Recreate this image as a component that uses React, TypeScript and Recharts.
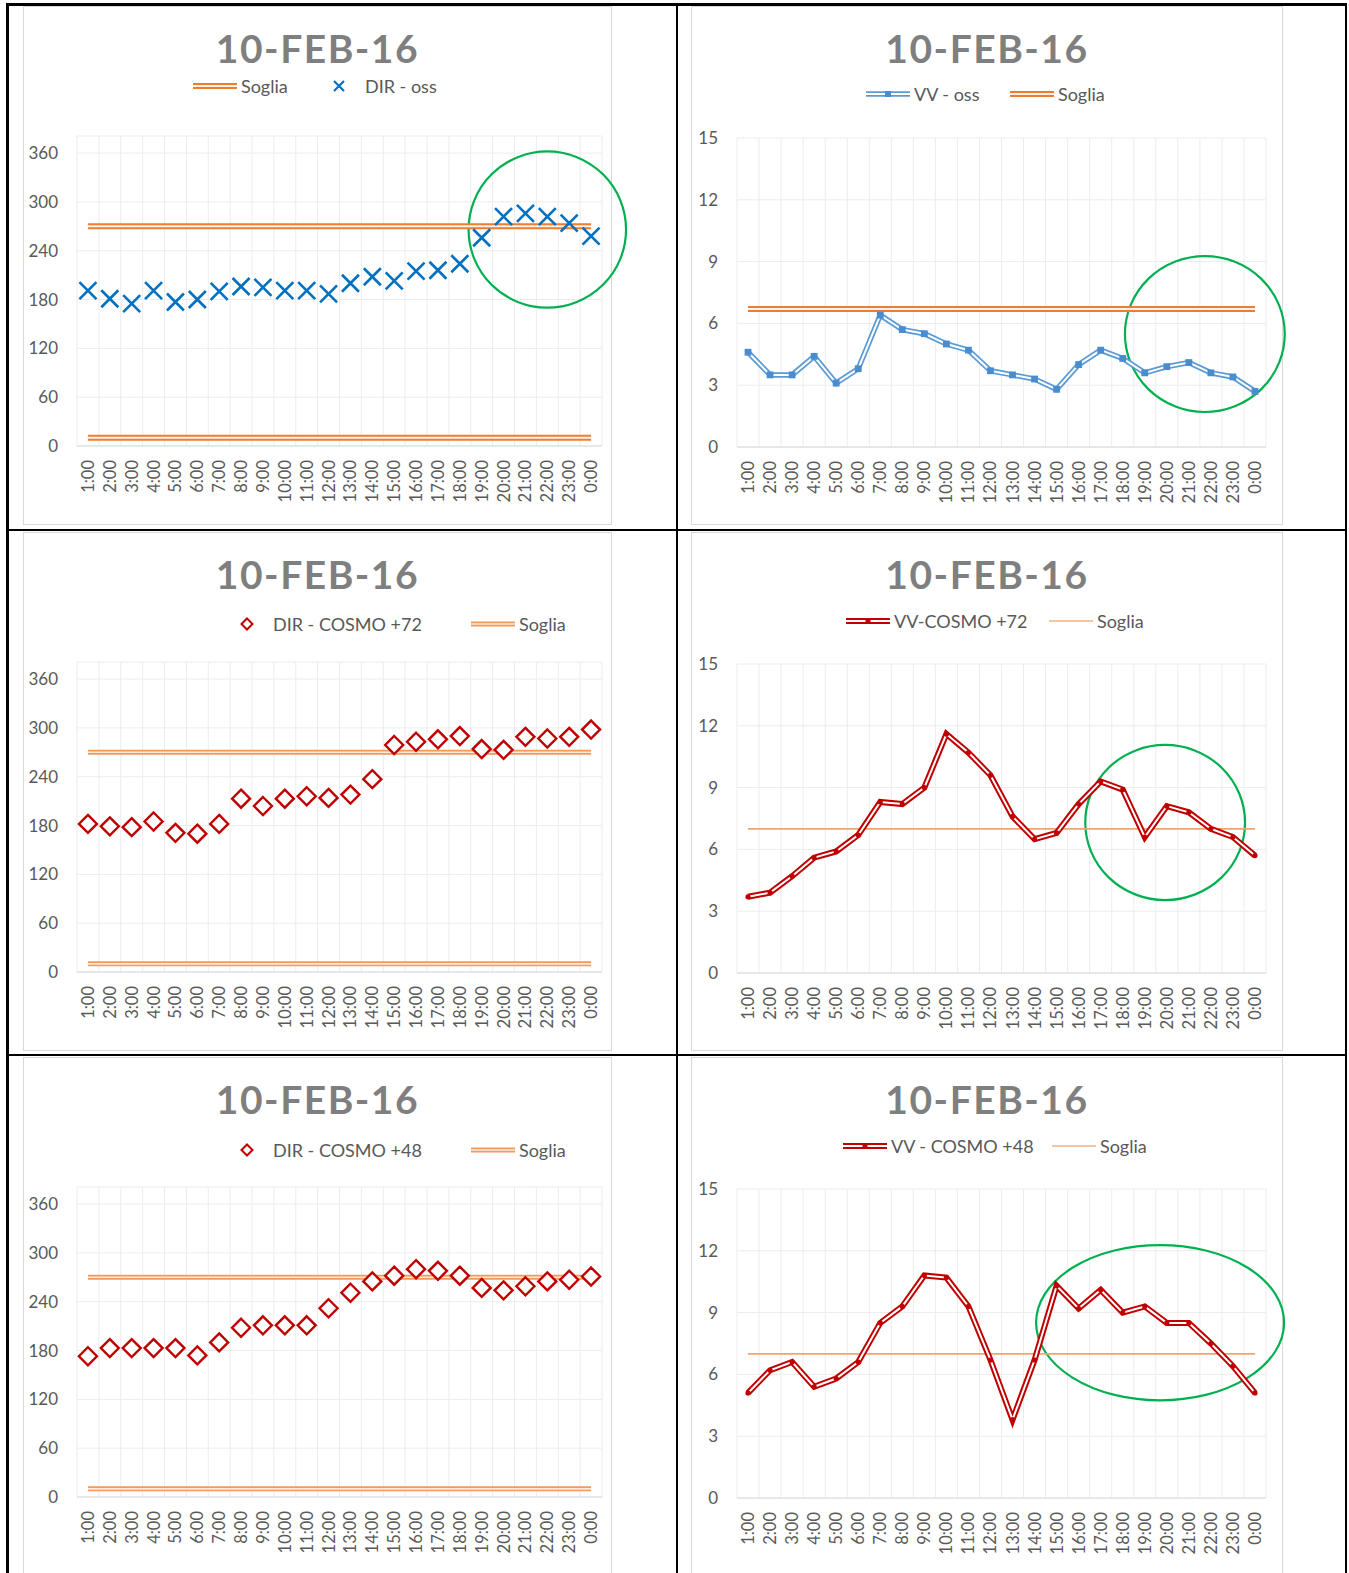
import React from 'react';
import { LineChart, Line, XAxis, YAxis, CartesianGrid, ReferenceArea } from 'recharts';

const FONT = 'Lato, "Open Sans", sans-serif';

const HOURS = [
  '1:00', '2:00', '3:00', '4:00', '5:00', '6:00', '7:00', '8:00', '9:00', '10:00', '11:00', '12:00',
  '13:00', '14:00', '15:00', '16:00', '17:00', '18:00', '19:00', '20:00', '21:00', '22:00', '23:00', '0:00',
];

const DIR_OSS = [191, 181, 175, 191, 177, 180, 190, 196, 195, 191, 191, 187, 200, 208, 203, 215, 216, 224, 256, 282, 286, 282, 274, 258];
const VV_OSS = [4.6, 3.5, 3.5, 4.4, 3.1, 3.8, 6.4, 5.7, 5.5, 5.0, 4.7, 3.7, 3.5, 3.3, 2.8, 4.0, 4.7, 4.3, 3.6, 3.9, 4.1, 3.6, 3.4, 2.7];
const DIR_COSMO_72 = [182, 179, 178, 185, 171, 170, 182, 213, 204, 213, 216, 214, 218, 237, 279, 283, 286, 290, 274, 273, 289, 287, 289, 298];
const VV_COSMO_72 = [3.7, 3.9, 4.7, 5.6, 5.9, 6.7, 8.3, 8.2, 9.0, 11.6, 10.7, 9.6, 7.6, 6.5, 6.8, 8.2, 9.3, 8.9, 6.6, 8.1, 7.8, 7.0, 6.6, 5.7];
const DIR_COSMO_48 = [173, 183, 183, 183, 183, 174, 190, 208, 211, 211, 211, 232, 251, 265, 272, 280, 278, 272, 257, 254, 259, 265, 267, 271];
const VV_COSMO_48 = [5.1, 6.2, 6.6, 5.4, 5.8, 6.6, 8.5, 9.3, 10.8, 10.7, 9.3, 6.7, 3.8, 6.7, 10.3, 9.2, 10.1, 9.0, 9.3, 8.5, 8.5, 7.5, 6.4, 5.1];

// soglie (threshold) values
const SOGLIA_DIR = [270, 10];
const SOGLIA_VV_OSS = [6.7];
const SOGLIA_VV_COSMO = [7];

const DIR_TICKS = [0, 60, 120, 180, 240, 300, 360];
const VV_TICKS = [0, 3, 6, 9, 12, 15];
const TITLE = '10-FEB-16';

const TICK_IDX = HOURS.map((_, i) => i + 1);
const GRID_IDX = [0, ...TICK_IDX].map(i => i + 0.5);

type Marker = 'x' | 'diamond' | 'blue' | 'red';
type SogliaStyle = 'double' | 'light' | 'thin';
type Icon = Marker | SogliaStyle;

interface PanelCfg {
  left: number;
  top: number;
  width: number;
  kind: 'dir' | 'vv';
  values: number[];
  soglia: number[];
  sogliaStyle: SogliaStyle;
  marker: Marker;
  legendY: number;
  legend: { icon: Icon; label: string; left: number }[];
  highlight?: { x1: number; x2: number; y1: number; y2: number };
}

const PANELS: PanelCfg[] = [
  {
    left: 23, top: 6, width: 589, kind: 'dir', values: DIR_OSS, soglia: SOGLIA_DIR, sogliaStyle: 'double', marker: 'x',
    legendY: 80,
    legend: [{ icon: 'double', label: 'Soglia', left: 170 }, { icon: 'x', label: 'DIR - oss', left: 294 }],
    highlight: { x1: 18.4, x2: 25.6, y1: 170, y2: 362 },
  },
  {
    left: 691, top: 6, width: 592, kind: 'vv', values: VV_OSS, soglia: SOGLIA_VV_OSS, sogliaStyle: 'double', marker: 'blue',
    legendY: 88,
    legend: [{ icon: 'blue', label: 'VV - oss', left: 175 }, { icon: 'double', label: 'Soglia', left: 319 }],
    highlight: { x1: 18.1, x2: 25.35, y1: 1.7, y2: 9.27 },
  },
  {
    left: 23, top: 532, width: 589, kind: 'dir', values: DIR_COSMO_72, soglia: SOGLIA_DIR, sogliaStyle: 'light', marker: 'diamond',
    legendY: 92,
    legend: [{ icon: 'diamond', label: 'DIR - COSMO +72', left: 202 }, { icon: 'light', label: 'Soglia', left: 448 }],
  },
  {
    left: 691, top: 532, width: 592, kind: 'vv', values: VV_COSMO_72, soglia: SOGLIA_VV_COSMO, sogliaStyle: 'thin', marker: 'red',
    legendY: 89,
    legend: [{ icon: 'red', label: 'VV-COSMO +72', left: 155 }, { icon: 'thin', label: 'Soglia', left: 358 }],
    highlight: { x1: 16.3, x2: 23.55, y1: 3.54, y2: 11.07 },
  },
  {
    left: 23, top: 1057, width: 589, kind: 'dir', values: DIR_COSMO_48, soglia: SOGLIA_DIR, sogliaStyle: 'light', marker: 'diamond',
    legendY: 92.5,
    legend: [{ icon: 'diamond', label: 'DIR - COSMO +48', left: 202 }, { icon: 'light', label: 'Soglia', left: 448 }],
  },
  {
    left: 691, top: 1057, width: 592, kind: 'vv', values: VV_COSMO_48, soglia: SOGLIA_VV_COSMO, sogliaStyle: 'thin', marker: 'red',
    legendY: 88.5,
    legend: [{ icon: 'red', label: 'VV - COSMO +48', left: 152 }, { icon: 'thin', label: 'Soglia', left: 361 }],
    highlight: { x1: 14.07, x2: 25.32, y1: 4.74, y2: 12.28 },
  },
];

const SOGLIA_COLORS: Record<SogliaStyle, { outer: string; inner?: string; w: number; wi: number }> = {
  double: { outer: '#ed7d31', inner: '#fdf1ea', w: 6, wi: 2 },
  light: { outer: '#f29a5c', inner: '#fde8da', w: 5, wi: 1.6 },
  thin: { outer: '#f3a46d', w: 1.8, wi: 0 },
};

const HourTick = (props: any) => {
  const { x, y, payload } = props;
  return (
    <text
      transform={`translate(${x},${y}) rotate(-90)`}
      textAnchor="end"
      dominantBaseline="central"
      fontSize={16.5}
      fill="#595959"
      fontFamily={FONT}
    >
      {HOURS[payload.value - 1]}
    </text>
  );
};

const xDot = (p: any) => {
  const { cx, cy, index } = p;
  const h = 8.5;
  return (
    <path
      key={index}
      d={`M${cx - h},${cy - h}L${cx + h},${cy + h}M${cx - h},${cy + h}L${cx + h},${cy - h}`}
      stroke="#0070c0"
      strokeWidth={2.6}
      fill="none"
    />
  );
};

const diamondDot = (p: any) => {
  const { cx, cy, index } = p;
  const h = 9;
  return (
    <path
      key={index}
      d={`M${cx},${cy - h}L${cx + h},${cy}L${cx},${cy + h}L${cx - h},${cy}Z`}
      stroke="#c00000"
      strokeWidth={2.4}
      fill="#fff"
    />
  );
};

const squareDot = (p: any) => {
  const { cx, cy, index } = p;
  return <rect key={index} x={cx - 3.4} y={cy - 3.4} width={6.8} height={6.8} fill="#4a8cd0" />;
};

const redDot = (p: any) => {
  const { cx, cy, index } = p;
  return <circle key={index} cx={cx} cy={cy} r={2.6} fill="#c00000" />;
};

const ellipseShape = (p: any) => (
  <ellipse
    cx={p.x + p.width / 2}
    cy={p.y + p.height / 2}
    rx={Math.abs(p.width) / 2}
    ry={Math.abs(p.height) / 2}
    fill="none"
    stroke="#00b050"
    strokeWidth={2.2}
  />
);

function LegendIcon({ icon }: { icon: Icon }) {
  let body: React.ReactNode = null;
  if (icon === 'double' || icon === 'light') {
    const c = SOGLIA_COLORS[icon];
    body = (
      <>
        <line x1={0} x2={44} y1={7} y2={7} stroke={c.outer} strokeWidth={c.w} />
        <line x1={0} x2={44} y1={7} y2={7} stroke={c.inner} strokeWidth={c.wi} />
      </>
    );
  } else if (icon === 'thin') {
    body = <line x1={0} x2={44} y1={7} y2={7} stroke="#f4b183" strokeWidth={1.5} />;
  } else if (icon === 'x') {
    body = <path d="M17,2L27,12M17,12L27,2" stroke="#0070c0" strokeWidth={2.2} fill="none" />;
  } else if (icon === 'diamond') {
    body = <path d="M22,1.5L27.5,7L22,12.5L16.5,7Z" stroke="#c00000" strokeWidth={2} fill="#fff" />;
  } else if (icon === 'blue') {
    body = (
      <>
        <line x1={0} x2={44} y1={7} y2={7} stroke="#5b9bd5" strokeWidth={5.5} />
        <line x1={0} x2={44} y1={7} y2={7} stroke="#fff" strokeWidth={2} />
        <rect x={19} y={4} width={6} height={6} fill="#4a8cd0" />
      </>
    );
  } else if (icon === 'red') {
    body = (
      <>
        <line x1={0} x2={44} y1={7} y2={7} stroke="#c00000" strokeWidth={6} />
        <line x1={0} x2={44} y1={7} y2={7} stroke="#fff" strokeWidth={2} />
        <circle cx={22} cy={7} r={2.6} fill="#c00000" />
      </>
    );
  }
  return <svg width={44} height={14} style={{ display: 'block', overflow: 'visible' }}>{body}</svg>;
}

function Panel({ cfg }: { cfg: PanelCfg }) {
  const isDir = cfg.kind === 'dir';
  const rows = HOURS.map((hour, i) => ({
    idx: i + 1,
    hour,
    value: cfg.values[i],
    s0: cfg.soglia[0],
    s1: cfg.soglia[1],
  }));
  const sc = SOGLIA_COLORS[cfg.sogliaStyle];
  const sogliaKeys = isDir ? ['s0', 's1'] : ['s0'];

  return (
    <div style={{ position: 'absolute', left: cfg.left, top: cfg.top, width: cfg.width, height: 519, background: '#fff' }}>
      <div style={{ position: 'absolute', inset: 0, border: '1px solid #d9d9d9' }} />
      <div style={{ position: 'absolute', left: 0, top: 0 }}>
        <LineChart
          width={cfg.width}
          height={519}
          data={rows}
          margin={{ top: isDir ? 130 : 132, right: isDir ? 10 : 17, bottom: 0, left: 0 }}
        >
          <CartesianGrid stroke="#ececec" verticalValues={GRID_IDX} />
          <XAxis
            type="number"
            dataKey="idx"
            domain={[0.5, 24.5]}
            ticks={TICK_IDX}
            interval={0}
            height={isDir ? 79 : 78}
            tickLine={false}
            tickSize={0}
            tickMargin={14}
            axisLine={{ stroke: '#d9d9d9', strokeWidth: 1.2 }}
            tick={<HourTick />}
          />
          <YAxis
            type="number"
            domain={isDir ? [0, 381] : [0, 15]}
            ticks={isDir ? DIR_TICKS : VV_TICKS}
            interval={0}
            width={isDir ? 54 : 46}
            axisLine={false}
            tickLine={false}
            tickSize={0}
            tickMargin={19}
            tick={{ fontSize: 17, fill: '#595959', fontFamily: FONT }}
          />
          {sogliaKeys.map(k => (
            <Line key={k} dataKey={k} stroke={sc.outer} strokeWidth={sc.w} dot={false} activeDot={false} isAnimationActive={false} />
          ))}
          {sc.inner &&
            sogliaKeys.map(k => (
              <Line key={k + 'in'} dataKey={k} stroke={sc.inner} strokeWidth={sc.wi} dot={false} activeDot={false} isAnimationActive={false} />
            ))}
          {cfg.marker === 'x' && (
            <Line dataKey="value" stroke="none" dot={xDot} activeDot={false} isAnimationActive={false} />
          )}
          {cfg.marker === 'diamond' && (
            <Line dataKey="value" stroke="none" dot={diamondDot} activeDot={false} isAnimationActive={false} />
          )}
          {cfg.marker === 'blue' && (
            <Line dataKey="value" stroke="#5b9bd5" strokeWidth={5.5} dot={false} activeDot={false} isAnimationActive={false} />
          )}
          {cfg.marker === 'blue' && (
            <Line dataKey="value" stroke="#fff" strokeWidth={2} dot={squareDot} activeDot={false} isAnimationActive={false} />
          )}
          {cfg.marker === 'red' && (
            <Line dataKey="value" stroke="#c00000" strokeWidth={6} dot={false} activeDot={false} isAnimationActive={false} />
          )}
          {cfg.marker === 'red' && (
            <Line dataKey="value" stroke="#fff" strokeWidth={2} dot={redDot} activeDot={false} isAnimationActive={false} />
          )}
          {cfg.highlight && (
            <ReferenceArea
              x1={cfg.highlight.x1}
              x2={cfg.highlight.x2}
              y1={cfg.highlight.y1}
              y2={cfg.highlight.y2}
              ifOverflow="visible"
              shape={ellipseShape}
            />
          )}
        </LineChart>
      </div>
      <div
        style={{
          position: 'absolute',
          left: 0,
          top: 22.5,
          width: '100%',
          textAlign: 'center',
          fontFamily: FONT,
          fontWeight: 700,
          fontSize: 39,
          lineHeight: '39px',
          letterSpacing: 1.5,
          color: '#7f7f7f',
        }}
      >
        {TITLE}
      </div>
      {cfg.legend.map(item => (
        <div
          key={item.label}
          style={{
            position: 'absolute',
            left: item.left,
            top: cfg.legendY - 10,
            height: 20,
            display: 'flex',
            alignItems: 'center',
            whiteSpace: 'nowrap',
          }}
        >
          <LegendIcon icon={item.icon} />
          <span style={{ marginLeft: 4, fontFamily: FONT, fontSize: 18, lineHeight: '20px', color: '#595959' }}>{item.label}</span>
        </div>
      ))}
    </div>
  );
}

const rule = (left: number, top: number, width: number, height: number) => (
  <div style={{ position: 'absolute', left, top, width, height, background: '#000' }} />
);

export default function App() {
  return (
    <div style={{ position: 'absolute', left: 0, top: 0, width: 1349, height: 1573, overflow: 'hidden', background: '#fff' }}>
      <style>{'.recharts-surface{overflow:visible}'}</style>
      {PANELS.map((p, i) => (
        <Panel key={i} cfg={p} />
      ))}
      {rule(6, 3, 1341, 2.5)}
      {rule(6, 529, 1341, 2)}
      {rule(6, 1054, 1341, 2)}
      {rule(6, 3, 2.5, 1570)}
      {rule(676, 3, 2, 1570)}
      {rule(1345, 3, 2, 1570)}
    </div>
  );
}
